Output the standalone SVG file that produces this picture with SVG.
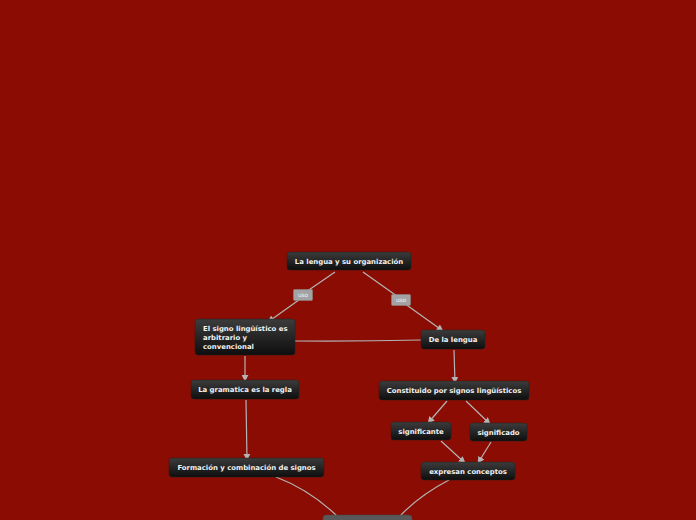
<svg xmlns="http://www.w3.org/2000/svg" width="696" height="520" viewBox="0 0 696 520">
<defs>
<linearGradient id="g" x1="0" y1="0" x2="0" y2="1">
<stop offset="0" stop-color="#3c3c3c"/>
<stop offset="1" stop-color="#0e0e0e"/>
</linearGradient>
<marker id="a" viewBox="0 0 10 10" refX="9" refY="5" markerWidth="7" markerHeight="7" orient="auto" markerUnits="userSpaceOnUse">
<path d="M0,0 L10,5 L0,10 z" fill="#b4b4b4"/>
</marker>
</defs>
<style>
.n{fill:url(#g);stroke:#222;stroke-width:0.5}
.t{font-family:"DejaVu Sans",Verdana,sans-serif;font-weight:bold;font-size:6.9px;fill:#f2f2f2}
.c{fill:none;stroke:#b4b4b4;stroke-width:1.2}
.l{fill:#a3a3a3;stroke:#8a8a8a;stroke-width:0.5}
.lt{font-family:"DejaVu Sans",Verdana,sans-serif;font-size:5.8px;fill:#f4f4f4}
</style>
<rect width="696" height="520" fill="#8a0c02"/>
<g id="connectors">
<path class="c" d="M335,272 L303,294"/>
<path class="c" d="M303,297 L268,322" marker-end="url(#a)"/>
<path class="c" d="M363,272 L401,299"/>
<path class="c" d="M401,301 L443,331" marker-end="url(#a)"/>
<path class="c" d="M295,341 Q360,341.5 421,340"/>
<path class="c" d="M245,356 L245,381" marker-end="url(#a)"/>
<path class="c" d="M246,400 L247,460" marker-end="url(#a)"/>
<path class="c" d="M454,350 L455,383" marker-end="url(#a)"/>
<path class="c" d="M447,401 L428,423" marker-end="url(#a)"/>
<path class="c" d="M466,401 L490,424" marker-end="url(#a)"/>
<path class="c" d="M441,441 L465,463" marker-end="url(#a)"/>
<path class="c" d="M491,442 L478,463" marker-end="url(#a)"/>
<path class="c" d="M276,477 Q310,490 337,516"/>
<path class="c" d="M449,480 Q420,495 400,516"/>
<rect class="l" x="293.5" y="289.5" width="19" height="11" rx="1"/>
<text class="lt" x="303" y="297.4" text-anchor="middle">uso</text>
<rect class="l" x="391.5" y="294.5" width="19" height="11" rx="1"/>
<text class="lt" x="401" y="302.4" text-anchor="middle">uso</text>
</g>
<g id="root"><rect class="n" x="287" y="252" width="124" height="18" rx="3"/><text class="t" x="349" y="263.6" text-anchor="middle">La lengua y su organización</text></g>
<g id="signo"><rect class="n" x="195" y="319" width="100" height="36" rx="3"/><text class="t" x="203" y="330.6">El signo lingüístico es</text><text class="t" x="203" y="339.6">arbitrario y</text><text class="t" x="203" y="348.6">convencional</text></g>
<g id="delalengua"><rect class="n" x="421" y="330" width="64" height="19" rx="3"/><text class="t" x="453" y="342" text-anchor="middle">De la lengua</text></g>
<g id="gramatica"><rect class="n" x="191" y="380" width="108" height="19" rx="3"/><text class="t" x="245" y="392.2" text-anchor="middle">La gramatica es la regla</text></g>
<g id="constituido"><rect class="n" x="379" y="381" width="150" height="19" rx="3"/><text class="t" x="454" y="393.2" text-anchor="middle">Constituido por signos lingüísticos</text></g>
<g id="significante"><rect class="n" x="391" y="422" width="60" height="18" rx="3"/><text class="t" x="421" y="433.6" text-anchor="middle">significante</text></g>
<g id="significado"><rect class="n" x="470" y="423" width="57" height="18" rx="3"/><text class="t" x="498.5" y="434.6" text-anchor="middle">significado</text></g>
<g id="formacion"><rect class="n" x="169" y="458" width="155" height="19" rx="3"/><text class="t" x="246.5" y="470.2" text-anchor="middle">Formación y combinación de signos</text></g>
<g id="expresan"><rect class="n" x="421" y="462" width="94" height="18" rx="3"/><text class="t" x="468" y="473.6" text-anchor="middle">expresan conceptos</text></g>
<g id="bottom"><rect x="323" y="515" width="89" height="12" rx="3" fill="#595959" stroke="#444" stroke-width="0.5"/></g>
</svg>
